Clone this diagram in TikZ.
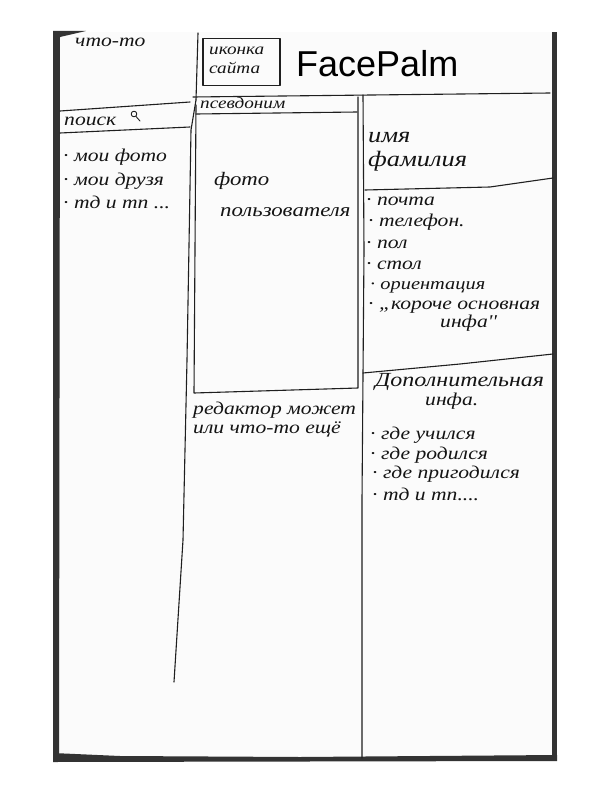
\documentclass[tikz,border=0pt]{standalone}
\usepackage{fontspec}
\setmainfont{Liberation Serif}
\newfontfamily\logofont{Liberation Sans}
% a widened italic serif standing in for the handwriting
\newfontfamily\handfont[FakeStretch=1.2]{Liberation Serif}
\begin{document}
\begin{tikzpicture}[x=1pt,y=-1pt,
  ink/.style={line width=1.1pt, black!88, line cap=round, line join=round},
  edge/.style={fill=black!80},
  hand/.style={font=\handfont\itshape\fontsize{18}{20}\selectfont, anchor=base west, inner sep=0pt, text=black!92},
  hsize/.style={font=\handfont\itshape\fontsize{#1}{#1}\selectfont}]
\useasboundingbox (0,0) rectangle (612,792);
% sheet of paper and its shadowed edges
\fill[white!98.5!black] (56,32) rectangle (555,758);
\fill[edge] (53,31) -- (86,31) -- (60,37) -- (59,758) -- (53,758) -- cycle;
\fill[edge] (552,32) rectangle (557,760);
\fill[edge] (53,753) -- (120,756) -- (300,757) -- (557,755) -- (557,761) -- (53,762) -- cycle;

% header
\draw[ink] (198,33) -- (196,100);
\node[draw, ink, minimum width=77pt, minimum height=47pt, inner sep=0pt] (icon) at (241.5,62) {};
\node[hand, hsize=16] (icontext1) at (209,55) {иконка};
\node[hand, hsize=16] (icontext2) at (209,74) {сайта};
\node[anchor=base west, inner sep=0pt, font=\logofont\fontsize{36}{40}\selectfont] (logo) at (296,76) {FacePalm};
\node[hand] (something) at (75,47) {что-то};

% left column
\draw[ink] (60,111) -- (190,102);
\draw[ink] (60,133) -- (190,127);
\draw[ink] (196,100) -- (191,130) -- (187,360) -- (183,540) -- (174,682);
\node[hand] (search) at (64,125) {поиск};
\draw[ink, line width=0.9pt] (134,114) circle (2.8pt);
\draw[ink, line width=0.9pt] (136,116.5) -- (140,121);
\node[hand] (menu1) at (63,161) {· мои фото};
\node[hand] (menu2) at (63,185) {· мои друзя};
\node[hand] (menu3) at (63,208) {· тд и тп ...};

% middle column: nickname and photo box
\draw[ink] (193,97) -- (550,93);
\draw[ink] (196,105) -- (194,393) -- (358,388) -- (358,97);
\draw[ink] (196,114) -- (357,112);
\node[hand, hsize=16] (nick) at (200,108) {псевдоним};
\node[hand, hsize=19] (photo1) at (214,185) {фото};
\node[hand, hsize=19] (photo2) at (220,216) {пользователя};
\node[hand] (editor1) at (193,414) {редактор может};
\node[hand] (editor2) at (193,433) {или что-то ещё};

% right column
\draw[ink] (363,95) -- (364,250) -- (362,500) -- (362,758);
\draw[ink] (365,190) -- (490,187) -- (553,178);
\draw[ink] (363,373) -- (460,364) -- (553,354);
\node[hand, hsize=22] (name1) at (368,142) {имя};
\node[hand, hsize=22] (name2) at (368,166) {фамилия};
\node[hand] (info1) at (366,205) {· почта};
\node[hand] (info2) at (368,226) {· телефон.};
\node[hand] (info3) at (366,248) {· пол};
\node[hand] (info4) at (366,269) {· стол};
\node[hand, hsize=17] (info5) at (370,289) {· ориентация};
\node[hand] (info6) at (368,309) {· „короче основная};
\node[hand] (info7) at (440,327) {инфа''};
\node[hand, hsize=20] (extra1) at (375,386) {Дополнительная};
\node[hand] (extra2) at (425,405) {инфа.};
\node[hand] (extra3) at (370,439) {· где учился};
\node[hand] (extra4) at (370,459) {· где родился};
\node[hand] (extra5) at (372,478) {· где пригодился};
\node[hand] (extra6) at (372,500) {· тд и тп....};
\end{tikzpicture}
\end{document}
